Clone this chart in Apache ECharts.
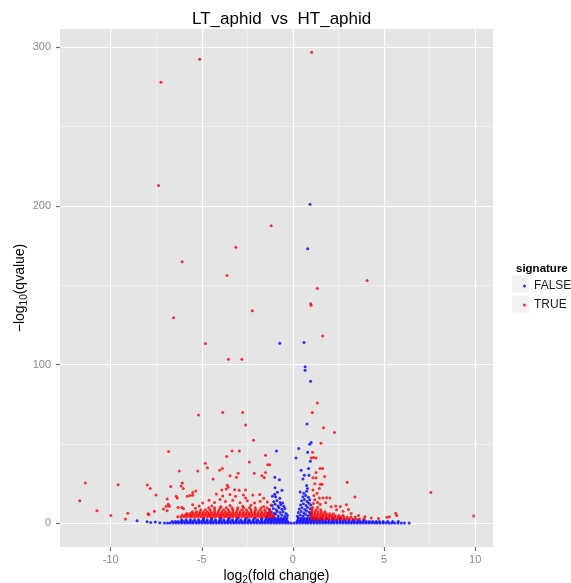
<!DOCTYPE html>
<html>
<head>
<meta charset="utf-8">
<title>LT_aphid vs HT_aphid</title>
<script src="https://cdn.jsdelivr.net/npm/echarts@6/dist/echarts.min.js"></script>
<style>
  html, body { margin: 0; padding: 0; background: #fff; }
  #volcano { width: 571px; height: 583px; }
</style>
</head>
<body>
<div id="volcano"></div>
<script>
// axis ranges (ggplot adds 5% around the data) and breaks
const xRange = [-12.78, 10.98]
const yRange = [-14.9, 311.5]
const xTicks = [-10, -5, 0, 5, 10]
const xMinor = [-7.5, -2.5, 2.5, 7.5]
const yTicks = [0, 100, 200, 300]
const yMinor = [50, 150, 250]

// signature FALSE (blue): dense band along the bottom, read row by row
const falseRowY = [0.3, 1.2, 2.2, 3.2]
const falseRowX = [
  [-7.05, -6.88, -6.74, -6.57, -6.41, -6.26, -6.1, -5.93, -5.78, -5.62, -5.47, -5.3, -5.15, -4.99, -4.83, -4.68, -4.51, -4.36, -4.2, -4.04, -3.88, -3.72, -3.57, -3.41, -3.25, -3.09, -2.93, -2.77, -2.62, -2.46, -2.3, -2.14, -1.98, -1.82, -1.67, -1.51, -1.35, -1.19, -1.03, -0.88, -0.72, -0.56, -0.4, -0.25, -0.1, 0.06, 0.21, 0.37, 0.53, 0.69, 0.84, 1.0, 1.16, 1.32, 1.47, 1.63, 1.79, 1.95, 2.11, 2.26, 2.42, 2.58, 2.74, 2.9, 3.05, 3.21, 3.37, 3.53, 3.69, 3.84, 4.0, 4.16, 4.32, 4.48, 4.63, 4.79, 4.95, 5.11, 5.27, 5.42, 5.58, 5.76, 5.95, 6.12, 6.38],
  [-6.62, -6.45, -6.3, -6.13, -5.98, -5.81, -5.66, -5.5, -5.34, -5.18, -5.02, -4.86, -4.71, -4.55, -4.39, -4.23, -4.07, -3.92, -3.76, -3.6, -3.44, -3.28, -3.13, -2.97, -2.81, -2.65, -2.49, -2.34, -2.18, -2.02, -1.86, -1.7, -1.55, -1.39, -1.23, -1.07, -0.91, -0.76, -0.6, -0.44, -0.29, 0.22, 0.38, 0.54, 0.7, 0.86, 1.02, 1.17, 1.33, 1.49, 1.65, 1.81, 1.96, 2.12, 2.28, 2.44, 2.6, 2.75, 2.91, 3.07, 3.23, 3.39, 3.55, 3.71, 3.87, 4.03, 4.2, 4.38, 4.57, 4.75, 4.96, 5.2, 5.48, 5.78],
  [-6.1, -5.86, -5.62, -5.4, -5.17, -4.93, -4.7, -4.48, -4.25, -4.01, -3.79, -3.55, -3.32, -3.1, -2.86, -2.63, -2.4, -2.17, -1.94, -1.72, -1.5, -1.33, -1.17, -1.01, -0.85, -0.69, -0.53, -0.37, 0.28, 0.44, 0.6, 0.76, 0.92, 1.08, 1.25, 1.42, 1.6, 1.79, 1.98, 2.18, 2.39, 2.6, 2.83, 3.07, 3.32, 3.6, 3.9],
  [-4.9, -4.45, -3.95, -3.5, -3.02, -2.55, -2.1, -1.7, -1.45, -1.28, -1.12, -0.96, -0.8, -0.64, -0.48, -0.33, 0.3, 0.45, 0.61, 0.77, 0.93, 1.1, 1.3, 1.55, 1.85, 2.2, 2.6]
]
// FALSE points off the band, mostly the two columns beside zero
const falsePoints = [
  [-8.55, 1.7], [-8.0, 1.0], [-7.8, 0.5], [-7.55, 0.9], [-7.3, 0.4],
  [-1.42, 4.5], [-1.25, 5.2], [-1.1, 4.3], [-0.95, 5.8], [-0.8, 4.6], [-0.62, 5.3], [-0.45, 4.4], [-0.3, 5.0],
  [-1.35, 6.6], [-1.18, 7.2], [-1.02, 6.4], [-0.86, 7.5], [-0.7, 6.8], [-0.54, 7.3], [-0.38, 6.2],
  [-1.28, 8.8], [-1.08, 9.4], [-0.92, 8.6], [-0.76, 9.8], [-0.6, 8.9], [-0.44, 9.3],
  [-1.15, 11.2], [-0.98, 12.0], [-0.82, 11.0], [-0.66, 11.8], [-0.5, 10.8],
  [-1.05, 13.6], [-0.88, 14.4], [-0.7, 13.2], [-0.56, 12.9], [-1.12, 17.0],
  [-0.95, 16.8], [-0.72, 15.8], [-1.0, 18.3], [-0.85, 19.6], [-0.6, 20.8], [-0.98, 22.4],
  [-0.74, 27.5], [-0.99, 29.0], [-0.9, 45.6], [-0.72, 113.5],
  [0.25, 4.4], [0.4, 5.3], [0.55, 4.6], [0.7, 5.6], [0.85, 4.8], [0.98, 5.4],
  [0.3, 6.8], [0.45, 7.4], [0.6, 6.5], [0.75, 7.8], [0.9, 7.0], [1.0, 6.6],
  [0.35, 9.0], [0.5, 9.8], [0.65, 8.7], [0.8, 10.0], [0.95, 9.2],
  [0.42, 11.6], [0.58, 12.4], [0.72, 11.2], [0.88, 12.6], [0.98, 11.5],
  [0.48, 14.2], [0.63, 15.0], [0.78, 13.8], [0.92, 14.8],
  [0.55, 16.8], [0.7, 17.6], [0.85, 16.5], [0.4, 19.8], [0.6, 19.0], [0.75, 20.2], [0.8, 22.0],
  [0.75, 23.8], [0.55, 28.0], [0.63, 30.3], [0.88, 30.3], [0.45, 33.4], [0.86, 34.5], [0.96, 39.1],
  [0.17, 41.2], [0.81, 44.8], [0.32, 47.1], [0.92, 49.8], [1.0, 51.0], [0.77, 62.6],
  [0.97, 89.5], [0.67, 96.5], [0.67, 98.6], [0.61, 113.9], [0.81, 173], [0.94, 201]
]

// signature TRUE (red): dense rows left and right of zero
const trueLeftY = [4.2, 5.2, 6.2, 7.3, 8.5, 9.8]
const trueLeftX = [
  [-6.32, -6.15, -5.99, -5.84, -5.67, -5.52, -5.35, -5.2, -5.03, -4.88, -4.71, -4.56, -4.39, -4.24, -4.07, -3.92, -3.75, -3.6, -3.43, -3.28, -3.11, -2.96, -2.79, -2.64, -2.47, -2.32, -2.15, -2.0, -1.83, -1.68, -1.51, -1.36, -1.19, -1.04],
  [-6.08, -5.91, -5.76, -5.59, -5.44, -5.27, -5.12, -4.95, -4.8, -4.63, -4.48, -4.31, -4.16, -3.99, -3.84, -3.67, -3.52, -3.35, -3.2, -3.03, -2.88, -2.71, -2.56, -2.39, -2.24, -2.07, -1.92, -1.75, -1.6, -1.43, -1.28, -1.1],
  [-5.82, -5.64, -5.47, -5.3, -5.13, -4.96, -4.79, -4.62, -4.45, -4.28, -4.11, -3.94, -3.77, -3.6, -3.43, -3.26, -3.09, -2.92, -2.75, -2.58, -2.41, -2.24, -2.07, -1.9, -1.73, -1.56, -1.39, -1.2],
  [-5.52, -5.3, -5.1, -4.9, -4.7, -4.5, -4.3, -4.1, -3.9, -3.7, -3.5, -3.3, -3.1, -2.9, -2.7, -2.5, -2.3, -2.1, -1.9, -1.7, -1.5, -1.28],
  [-5.05, -4.8, -4.55, -4.3, -4.05, -3.8, -3.55, -3.3, -3.05, -2.8, -2.55, -2.3, -2.05, -1.8, -1.55, -1.3],
  [-4.62, -4.3, -3.98, -3.66, -3.34, -3.02, -2.7, -2.38, -2.06, -1.74, -1.42]
]
const trueRightY = [2.8, 4.0, 5.0, 6.1, 7.3, 8.6, 10.0]
const trueRightX = [
  [1.02, 1.18, 1.34, 1.5, 1.66, 1.82, 1.98, 2.14, 2.3, 2.46, 2.62, 2.78, 2.94, 3.1, 3.28, 3.46, 3.66, 3.9],
  [1.03, 1.19, 1.35, 1.51, 1.67, 1.83, 1.99, 2.15, 2.31, 2.47, 2.63, 2.8, 2.98, 3.18, 3.42],
  [1.02, 1.18, 1.34, 1.5, 1.66, 1.82, 1.98, 2.14, 2.32, 2.52, 2.74],
  [1.04, 1.2, 1.36, 1.52, 1.68, 1.84, 2.02, 2.22],
  [1.03, 1.2, 1.38, 1.56, 1.76],
  [1.05, 1.28, 1.52],
  [1.08, 1.36]
]
// TRUE points scattered above the bands
const truePoints = [
  [1.03, 296.8], [-5.11, 292.4], [-7.24, 278], [-7.37, 212.9], [-1.19, 187.5], [-3.13, 174],
  [-6.08, 164.8], [-3.62, 156.2], [4.07, 153], [1.34, 148], [0.97, 138.3], [1.0, 137.5],
  [-2.23, 133.9], [-6.55, 129.5], [1.63, 118.1], [-4.8, 113.3], [-3.54, 103.4], [-2.8, 103.4],
  [1.34, 75.9], [1.07, 69.8], [1.68, 60.3], [2.28, 57.2], [1.54, 50.4], [1.08, 44.8],
  [1.0, 41.2], [1.13, 41.5], [1.27, 41.2], [1.49, 34.5], [1.63, 34.5], [1.27, 32], [1.1, 28.7],
  [1.27, 28.7], [1.74, 29.6], [2.98, 25.9], [1.5, 24.6], [1.6, 24.6], [1.2, 25], [1.45, 22],
  [1.1, 21], [1.32, 19.0], [1.15, 17.5], [1.2, 14.8], [1.35, 13.2], [1.12, 12.5], [1.5, 12.0],
  [1.8, 13.0], [3.4, 16.6], [1.45, 15.9], [1.65, 15.9], [1.85, 16.1], [2.03, 15.9],
  [2.94, 11.8], [2.35, 11], [2.6, 10.6], [2.1, 10.5], [2.4, 8.6], [2.75, 7.6], [3.05, 8.8],
  [3.2, 6.2], [3.6, 5.0], [3.95, 4.2], [4.3, 3.4], [4.7, 3.0], [5.16, 3.8], [5.3, 4.2],
  [5.64, 6.3], [5.7, 5.0], [7.57, 19.5], [9.92, 4.6],
  [-5.18, 68.3], [-3.85, 69.8], [-2.76, 69.8], [-2.6, 62], [-2.16, 52.3], [-6.82, 45.2],
  [-3.34, 45.6], [-2.94, 45.6], [-3.63, 42.2], [-1.5, 42.9], [-2.39, 38.7], [-4.8, 37.8],
  [-1.38, 37], [-1.27, 37], [-4.69, 35.1], [-3.87, 34.5], [-4.02, 33.4], [-6.24, 33],
  [-5.22, 33], [-3.0, 31.5], [-2.12, 31.5], [-1.5, 32], [-1.7, 30], [-1.57, 28.8], [-3.1, 29],
  [-3.45, 30], [-4.38, 27.9], [-7.99, 24.2], [-7.83, 21.9], [-6.07, 25.4], [-6.13, 23.5],
  [-3.6, 24], [-3.55, 22.8], [-3.66, 21.6], [-6.71, 23.3], [-6.02, 21.9], [-3.9, 21],
  [-3.2, 21.2], [-2.95, 20.8], [-2.6, 21], [-7.51, 17.8], [-5.5, 19.5], [-5.33, 20.4],
  [-5.8, 17], [-5.65, 17.5], [-5.5, 17.7], [-6.4, 17], [-6.35, 16], [-4.2, 18.5], [-3.85, 17.3],
  [-3.45, 18.2], [-3.15, 17], [-2.72, 17.8], [-2.6, 16], [-2.2, 17.8], [-1.82, 18.2], [-1.6, 15.8],
  [-6.9, 15.3], [-6.95, 10.7], [-6.78, 10.7], [-6.3, 10], [-6.1, 10], [-6.0, 9.2], [-5.5, 11.8],
  [-5.35, 9.5], [-5.15, 10.9], [-4.95, 12.8], [-7.1, 9.1], [-7.9, 5.5], [-7.95, 6.1], [-7.6, 7.7],
  [-6.9, 8.0], [-6.84, 12], [-4.6, 14.5], [-4.3, 13.2], [-4.0, 15.0], [-3.7, 13.8], [-3.3, 14.6],
  [-2.9, 13.0], [-2.5, 14.2], [-2.1, 12.8], [-1.8, 14.0], [-1.4, 13.5], [-1.2, 11.5], [-4.45, 11.0],
  [-3.95, 10.5], [-3.45, 11.2], [-2.75, 10.8], [-2.3, 11.4], [-1.6, 10.6],
  [-11.39, 25.4], [-9.59, 24.4], [-11.7, 14.3], [-10.75, 8.0], [-9.99, 5.0], [-9.06, 6.3], [-9.19, 2.7]
]

function rowsToPoints(levels, rows) {
  const out = []
  levels.forEach((y, i) => rows[i].forEach(x => out.push([x, y])))
  return out
}
const falseData = rowsToPoints(falseRowY, falseRowX).concat(falsePoints)
const trueData = rowsToPoints(trueLeftY, trueLeftX)
  .concat(rowsToPoints(trueRightY, trueRightX))
  .concat(truePoints)

// ggplot-style panel grid, drawn as mark lines under the points
function gridLines(axis, values, color, width) {
  return values.map(v => ({ [axis]: v, lineStyle: { color: color, width: width, type: 'solid' } }))
}
const panelGrid = [].concat(
  gridLines('xAxis', xMinor, '#f2f2f2', 0.8),
  gridLines('yAxis', yMinor, '#f2f2f2', 0.8),
  gridLines('xAxis', xTicks, '#ffffff', 1.2),
  gridLines('yAxis', yTicks, '#ffffff', 1.2)
)

const font = 'Liberation Sans, Arial, sans-serif'
const subRich = {
  a: { fontSize: 14, color: '#000', lineHeight: 18, fontFamily: font },
  s: { fontSize: 10, color: '#000', lineHeight: 10, verticalAlign: 'bottom', fontFamily: font }
}
// invisible axis line so the outside ticks are drawn at the panel edge
const hiddenLine = { show: true, onZero: false, lineStyle: { color: 'rgba(0,0,0,0)', width: 0 } }
const tickStyle = { color: '#6e6e6e', width: 1.2 }

const chart = echarts.init(document.getElementById('volcano'))
chart.setOption({
  animation: false,
  textStyle: { fontFamily: font },
  title: [
    {
      text: 'LT_aphid  vs  HT_aphid',
      left: 187,
      top: 6,
      textStyle: { fontSize: 17, fontWeight: 'normal', color: '#000' }
    },
    {
      text: 'signature',
      left: 511,
      top: 258,
      textStyle: { fontSize: 11.5, fontWeight: 'bold', color: '#000' }
    }
  ],
  legend: {
    data: ['FALSE', 'TRUE'],
    orient: 'vertical',
    left: 518,
    top: 275,
    icon: 'circle',
    itemWidth: 3,
    itemHeight: 3,
    itemGap: 7,
    selectedMode: false,
    textStyle: { fontSize: 12, color: '#1a1a1a', padding: [0, 0, 0, 3] }
  },
  // legend key backgrounds (grey boxes behind the dots)
  graphic: [
    { type: 'rect', shape: { x: 512, y: 275.5, width: 17, height: 17 }, style: { fill: '#f2f2f2' }, z: -1 },
    { type: 'rect', shape: { x: 512, y: 295.5, width: 17, height: 17 }, style: { fill: '#f2f2f2' }, z: -1 }
  ],
  grid: {
    left: 60,
    right: 78,
    top: 29,
    bottom: 36,
    outerBoundsMode: 'none',
    containLabel: false,
    show: true,
    backgroundColor: '#e5e5e5',
    borderWidth: 0
  },
  xAxis: {
    type: 'value',
    min: xRange[0],
    max: xRange[1],
    name: '{a|log}{s|2}{a|(fold change)}',
    nameLocation: 'middle',
    nameGap: 20,
    nameMoveOverlap: false,
    nameTextStyle: { rich: subRich },
    axisLine: hiddenLine,
    splitLine: { show: false },
    axisTick: { show: true, inside: false, length: 4, customValues: xTicks, lineStyle: tickStyle },
    axisLabel: { customValues: xTicks, fontSize: 11, color: '#888', margin: 7 }
  },
  yAxis: {
    type: 'value',
    min: yRange[0],
    max: yRange[1],
    name: '{a|\u2212log}{s|10}{a|(qvalue)}',
    nameLocation: 'middle',
    nameGap: 31,
    nameMoveOverlap: false,
    nameTextStyle: { rich: subRich },
    axisLine: hiddenLine,
    splitLine: { show: false },
    axisTick: { show: true, inside: false, length: 4, customValues: yTicks, lineStyle: tickStyle },
    axisLabel: { customValues: yTicks, fontSize: 11, color: '#888', margin: 9 }
  },
  series: [
    {
      name: 'panel',
      type: 'scatter',
      data: [],
      silent: true,
      markLine: { silent: true, symbol: ['none', 'none'], z: 1, label: { show: false }, data: panelGrid }
    },
    {
      name: 'FALSE',
      type: 'scatter',
      symbolSize: 3,
      itemStyle: { color: '#0000ff' },
      data: falseData,
      z: 3
    },
    {
      name: 'TRUE',
      type: 'scatter',
      symbolSize: 3,
      itemStyle: { color: '#ff0000' },
      data: trueData,
      z: 4
    }
  ]
})
</script>
</body>
</html>
